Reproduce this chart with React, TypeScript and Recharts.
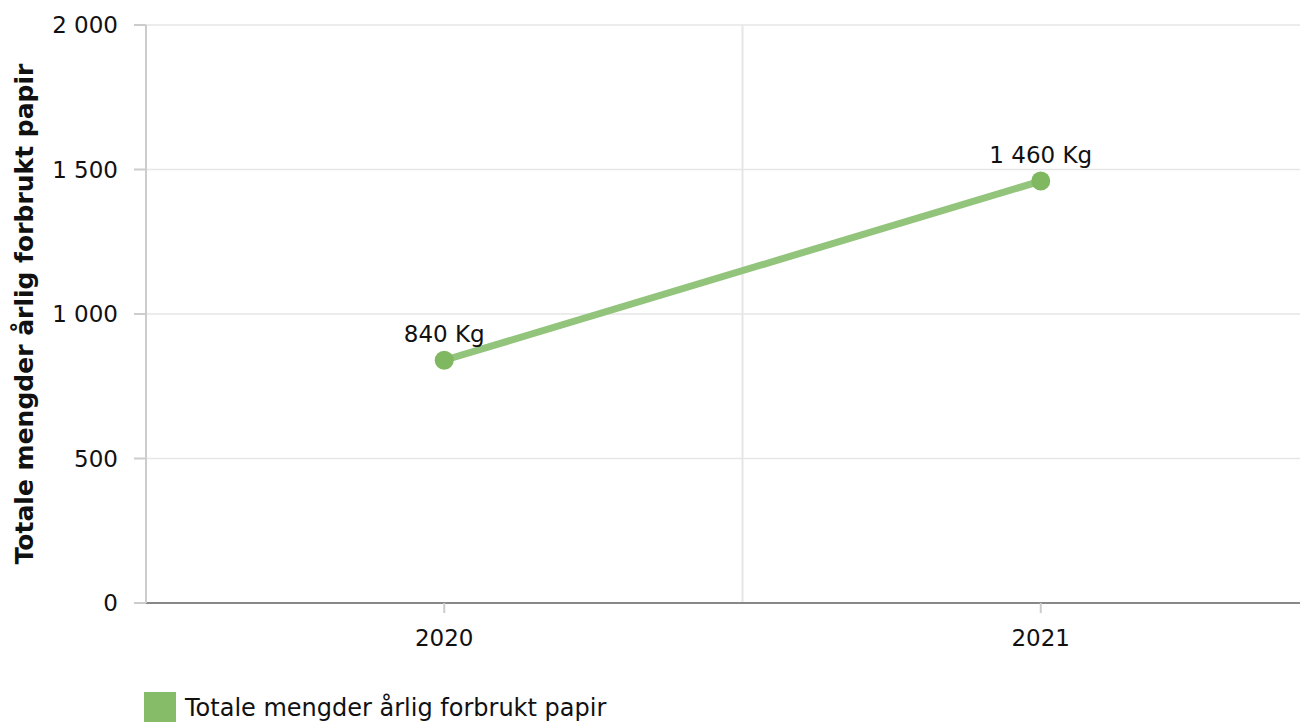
import React from 'react';
import {
  LineChart,
  Line,
  XAxis,
  YAxis,
  CartesianGrid,
  ReferenceLine,
  LabelList,
} from 'recharts';

const years = [2020, 2021];
const paperKg = [840, 1460];
const yTicks = [0, 500, 1000, 1500, 2000];
const seriesName = 'Totale mengder årlig forbrukt papir';

const FONT = '"DejaVu Sans", Verdana, sans-serif';
const LINE_COLOR = '#92c47b';
const DOT_COLOR = '#80b761';

const fmt = (v: number) => String(v).replace(/\B(?=(\d{3})+(?!\d))/g, ' ');

const data = years.map((year, i) => ({ year, value: paperKg[i] }));

const YLabel = (props: any) => {
  const vb = props.viewBox || { x: 0, y: 0, width: 0, height: 0 };
  const x = vb.x + 33;
  const y = vb.y + vb.height / 2;
  return (
    <text
      x={x}
      y={y}
      transform={`rotate(-90, ${x}, ${y})`}
      textAnchor="middle"
      fontFamily={FONT}
      fontWeight="bold"
      fontSize={25}
      fill="#111"
    >
      {seriesName}
    </text>
  );
};

const App: React.FC = () => {
  const midYear = (years[0] + years[1]) / 2;
  return (
    <div
      style={{
        position: 'fixed',
        left: 0,
        top: 0,
        width: 1300,
        height: 722,
        overflow: 'hidden',
        background: '#fff',
        fontFamily: FONT,
      }}
    >
      <LineChart
        width={1350}
        height={663}
        data={data}
        margin={{ top: 25, right: 11, left: 0, bottom: 0 }}
      >
        <CartesianGrid vertical={false} stroke="#e6e6e6" strokeWidth={1.5} />
        <ReferenceLine x={midYear} stroke="#e6e6e6" strokeWidth={2} />
        <XAxis
          dataKey="year"
          type="number"
          domain={[years[0] - 0.5, years[1] + 0.5]}
          ticks={years}
          height={60}
          tickSize={10}
          tickMargin={17}
          axisLine={{ stroke: '#888', strokeWidth: 2 }}
          tickLine={{ stroke: '#ccc', strokeWidth: 2 }}
          tick={{ fill: '#111', fontSize: 23, fontFamily: FONT }}
        />
        <YAxis
          domain={[0, 2000]}
          ticks={yTicks}
          width={146}
          tickSize={12}
          tickMargin={16}
          tickFormatter={fmt}
          axisLine={{ stroke: '#ccc', strokeWidth: 2 }}
          tickLine={{ stroke: '#ccc', strokeWidth: 2 }}
          tick={{ fill: '#111', fontSize: 23, fontFamily: FONT }}
          label={{ content: YLabel }}
        />
        <Line
          dataKey="value"
          stroke={LINE_COLOR}
          strokeWidth={7}
          isAnimationActive={false}
          dot={{ r: 9.5, fill: DOT_COLOR, stroke: 'none' }}
          activeDot={false}
        >
          <LabelList
            dataKey="value"
            position="top"
            offset={18}
            formatter={(v: any) => `${fmt(Number(v))} Kg`}
            fill="#111"
            fontSize={23}
            fontFamily={FONT}
          />
        </Line>
      </LineChart>
      <div
        style={{
          position: 'absolute',
          left: 144,
          top: 692,
          width: 32,
          height: 32,
          background: '#86bc68',
        }}
      />
      <div
        style={{
          position: 'absolute',
          left: 185,
          top: 696,
          fontSize: 24,
          lineHeight: '24px',
          color: '#111',
          whiteSpace: 'nowrap',
        }}
      >
        {seriesName}
      </div>
    </div>
  );
};

export default App;
